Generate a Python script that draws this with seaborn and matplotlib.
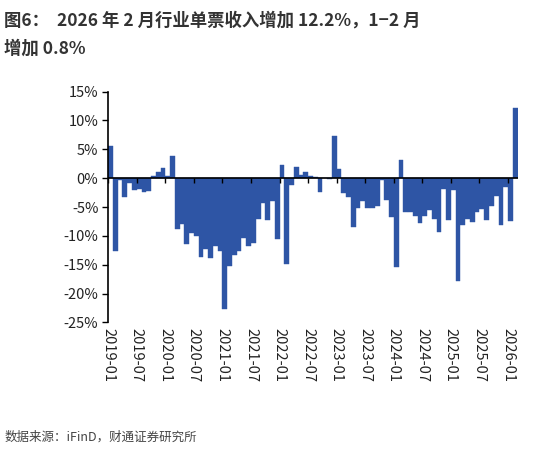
import numpy as np
import pandas as pd
import seaborn as sns
import matplotlib.pyplot as plt

# monthly change in per-ticket revenue, 2019-01 .. 2026-02 (%)
months = pd.period_range('2019-01', '2026-02', freq='M').strftime('%Y-%m').tolist()
values = [
	5.65, -12.7, -0.3, -3.2, -0.9, -2.1, -1.8, -2.4, -2.3, 0.35, 1.1, 1.8,
	0.3, 3.75, -8.8, -7.9, -11.4, -9.5, -10.0, -13.6, -12.2, -13.8, -11.8, -12.6,
	-22.7, -15.2, -13.3, -12.6, -10.4, -11.8, -11.2, -7.0, -4.3, -7.2, -3.9, -10.5,
	2.3, -14.8, -1.2, 2.0, 0.6, 1.1, 0.45, 0.2, -2.4, 0.0, -0.2, 7.3,
	1.5, -2.6, -3.2, -8.4, -5.2, -3.9, -5.1, -5.1, -4.8, -0.4, -3.8, -6.7,
	-15.4, 3.2, -5.8, -5.8, -6.6, -7.7, -6.6, -5.5, -7.1, -9.4, -1.8, -7.2,
	-2.1, -17.8, -8.2, -7.0, -7.6, -5.8, -5.3, -7.2, -4.9, -3.1, -8.2, -1.6,
	-7.4, 12.1,
]
yticks = [15, 10, 5, 0, -5, -10, -15, -20, -25]

df = pd.DataFrame({'month': months, 'value': values})
df['pos'] = range(len(df))

sns.set_theme(style='white')
plt.rcParams['font.family'] = ['Noto Sans CJK SC', 'DejaVu Sans']

fig = plt.figure(figsize=(5.33, 4.51), dpi=100)
ax = fig.add_axes([0.203, 0.285, 0.768, 0.512])

sns.barplot(data=df, x='pos', y='value', color='#2E55A5', width=1.0,
	edgecolor='#2E55A5', linewidth=0.3, saturation=1, ax=ax)

ax.set_ylim(-25, 15)
ax.set_xlim(-0.5, len(df) - 0.5)
ax.set_yticks(yticks)
ax.set_yticklabels([f'{v}%' for v in yticks], fontsize=10.5, color='#222222')
ax.tick_params(axis='y', direction='out', length=4, width=1, color='black', left=True, pad=3)

tick_idx = list(range(0, len(df), 6))
ax.set_xticks([i - 0.5 for i in tick_idx])
ax.set_xticklabels([months[i] for i in tick_idx], rotation=-90, fontsize=10.5, color='#222222')
ax.tick_params(axis='x', length=0, pad=4)
ax.set_xlabel('')
ax.set_ylabel('')

for s in ['top', 'right', 'bottom']:
	ax.spines[s].set_visible(False)
ax.spines['left'].set_color('black')
ax.spines['left'].set_linewidth(1.2)
ax.axhline(0, color='black', lw=1.2)
ax.vlines([i - 0.5 for i in tick_idx], -0.8, 0, color='black', lw=1)

fig.text(0.008, 0.955, '图6：  2026 年 2 月行业单票收入增加 12.2%，1−2 月', fontsize=12.5,
	color='#333333', fontweight='bold', va='center')
fig.text(0.008, 0.893, '增加 0.8%', fontsize=12.5, color='#333333', fontweight='bold', va='center')
fig.text(0.008, 0.03, '数据来源：iFinD，财通证券研究所', fontsize=9, color='#444444', va='center')

fig.savefig('out.png', dpi=100)
